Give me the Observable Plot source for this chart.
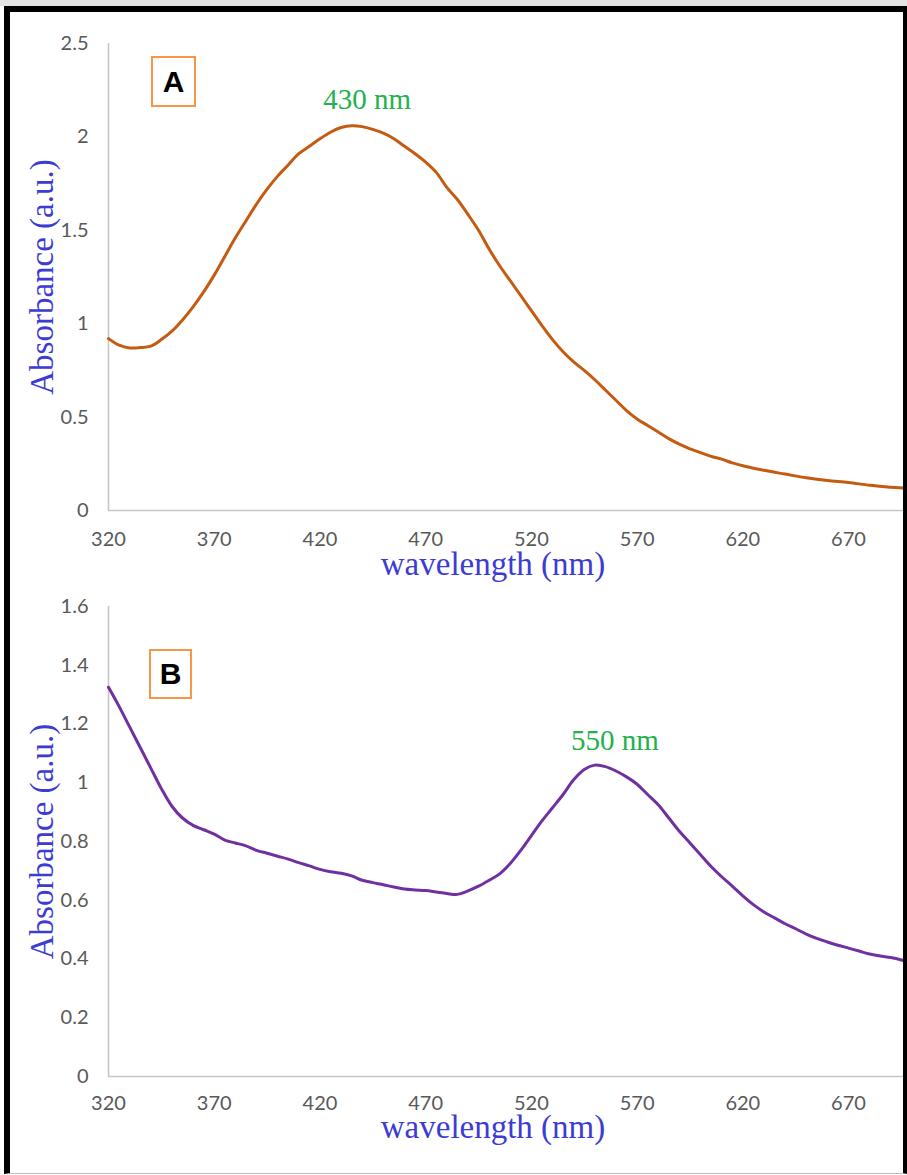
<!DOCTYPE html>
<html><head><meta charset="utf-8">
<script src="https://cdn.jsdelivr.net/npm/d3@7"></script>
<script src="https://cdn.jsdelivr.net/npm/@observablehq/plot@0.6"></script>
<style>
body{margin:0;background:#fff;}
#wrap{position:relative;width:907px;height:1175px;overflow:hidden;background:#fff;}
.panel{position:absolute;left:0;}
.strip{position:absolute;left:0;top:0;width:907px;height:6px;background:#e4e4e4;}
.frame{position:absolute;left:4px;top:6px;width:893px;height:1161px;border-left:6px solid #000;border-top:6px solid #000;border-right:4px solid #000;border-bottom:1px solid #bdbdbd;pointer-events:none;}
.tag{position:absolute;box-sizing:border-box;border:2px solid #f79646;font:bold 30px "Liberation Sans",Arial,sans-serif;display:flex;align-items:center;justify-content:center;color:#000;background:#fff;}
</style></head>
<body>
<div id="wrap">
  <div class="strip"></div>
  <div id="pA" class="panel" style="top:0px"></div>
  <div id="pB" class="panel" style="top:590px"></div>
  <div class="tag" style="left:151px;top:56px;width:45px;height:51px">A</div>
  <div class="tag" style="left:149px;top:649px;width:43px;height:50px">B</div>
  <div class="frame"></div>
</div>
<script>
// ---- data ----
const wavelengthA = [320,325,330,335,340,345,350,355,360,365,370,375,380,385,390,395,400,405,410,415,420,425,430,435,440,445,450,455,460,465,470,475,480,485,490,495,500,505,510,515,520,525,530,535,540,545,550,555,560,565,570,575,580,585,590,595,600,605,610,615,620,630,640,650,660,670,680,690,696];
const absorbanceA = [0.92,0.885,0.87,0.872,0.88,0.915,0.96,1.02,1.09,1.17,1.26,1.36,1.46,1.55,1.64,1.72,1.79,1.85,1.91,1.95,1.99,2.025,2.05,2.06,2.055,2.04,2.02,1.99,1.95,1.91,1.865,1.81,1.73,1.665,1.585,1.50,1.40,1.31,1.23,1.15,1.07,0.99,0.915,0.85,0.795,0.75,0.70,0.645,0.59,0.535,0.49,0.455,0.42,0.385,0.355,0.33,0.31,0.29,0.275,0.255,0.24,0.215,0.195,0.175,0.16,0.15,0.135,0.125,0.12];

const wavelengthB = [320,325,330,335,340,345,350,355,360,365,370,375,380,385,390,395,400,405,410,415,420,425,430,435,440,445,450,455,460,465,470,475,480,485,490,495,500,505,510,515,520,525,530,535,540,545,550,555,560,565,570,575,580,585,590,595,600,605,610,615,620,625,630,635,640,645,650,655,660,665,670,675,680,685,690,696];
const absorbanceB = [1.325,1.26,1.19,1.12,1.05,0.98,0.92,0.88,0.855,0.84,0.825,0.805,0.795,0.785,0.77,0.76,0.75,0.74,0.728,0.717,0.705,0.697,0.692,0.683,0.668,0.66,0.653,0.645,0.638,0.635,0.633,0.628,0.623,0.62,0.632,0.648,0.668,0.69,0.725,0.77,0.82,0.87,0.915,0.96,1.01,1.045,1.06,1.055,1.04,1.02,0.995,0.96,0.925,0.88,0.835,0.795,0.755,0.715,0.68,0.648,0.615,0.585,0.56,0.54,0.52,0.503,0.485,0.47,0.458,0.447,0.437,0.427,0.417,0.41,0.405,0.395];

const xTicks = [320,370,420,470,520,570,620,670];
const yTicksA = [0,0.5,1,1.5,2,2.5];
const yTicksB = [0,0.2,0.4,0.6,0.8,1,1.2,1.4,1.6];
const peakA = [{x:430, y:2.06, label:"430 nm"}];
const peakB = [{x:550, y:1.06, label:"550 nm"}];
const xTitle = "wavelength (nm)";
const yTitle = "Absorbance (a.u.)";

// ---- drawing ----
function panel({wl, ab, color, yMax, yTicks, peak, height, mt, mb, tickPadX, titleDy, peakDx, peakDy}) {
  const data = wl.map((w,i)=>({w, a: ab[i]}));
  const serif = "'Liberation Serif', 'Times New Roman', serif";
  return Plot.plot({
    width: 907, height,
    marginLeft: 108, marginRight: 4, marginTop: mt, marginBottom: mb,
    style: {fontFamily: "Lato, 'Open Sans', sans-serif", fontSize: "20px", color: "#595959", background: "transparent", overflow: "visible"},
    x: {domain: [320, 696], ticks: xTicks, tickFormat: d => String(d)},
    y: {domain: [0, yMax], ticks: yTicks, tickFormat: d => String(d)},
    marks: [
      Plot.axisX({ticks: xTicks, tickSize: 0, tickPadding: tickPadX, label: null, tickFormat: d => String(d)}),
      Plot.axisY({ticks: yTicks, tickSize: 0, tickPadding: 20, label: null, tickFormat: d => String(d)}),
      Plot.ruleY([0], {stroke: "#c6c6c6", strokeWidth: 1.6}),
      Plot.ruleX([320], {stroke: "#c6c6c6", strokeWidth: 1.6}),
      Plot.line(data, {x: "w", y: "a", stroke: color, strokeWidth: 3, curve: "catmull-rom"}),
      Plot.text(peak, {x: "x", y: "y", text: "label", dx: peakDx, dy: peakDy, lineAnchor: "bottom", textAnchor: "middle",
        fill: "#22b14c", fontSize: 29, fontFamily: serif}),
      Plot.text([xTitle], {frameAnchor: "bottom", dx: -13, dy: titleDy, lineAnchor: "bottom", textAnchor: "middle",
        fill: "#3c3cd4", fontSize: 33, fontFamily: serif}),
      Plot.text([yTitle], {frameAnchor: "left", dx: -66, rotate: -90, lineAnchor: "middle", textAnchor: "middle",
        fill: "#3c3cd4", fontSize: 33, fontFamily: serif})
    ]
  });
}

document.getElementById("pA").append(panel({
  wl: wavelengthA, ab: absorbanceA, color: "#c55a11", yMax: 2.5, yTicks: yTicksA, peak: peakA,
  height: 590, mt: 43, mb: 80, tickPadX: 21, titleDy: 64, peakDx: 26, peakDy: -17
}));
document.getElementById("pB").append(panel({
  wl: wavelengthB, ab: absorbanceB, color: "#7030a0", yMax: 1.6, yTicks: yTicksB, peak: peakB,
  height: 585, mt: 16, mb: 99, tickPadX: 19, titleDy: 61, peakDx: 20, peakDy: -15
}));
</script>
</body></html>
